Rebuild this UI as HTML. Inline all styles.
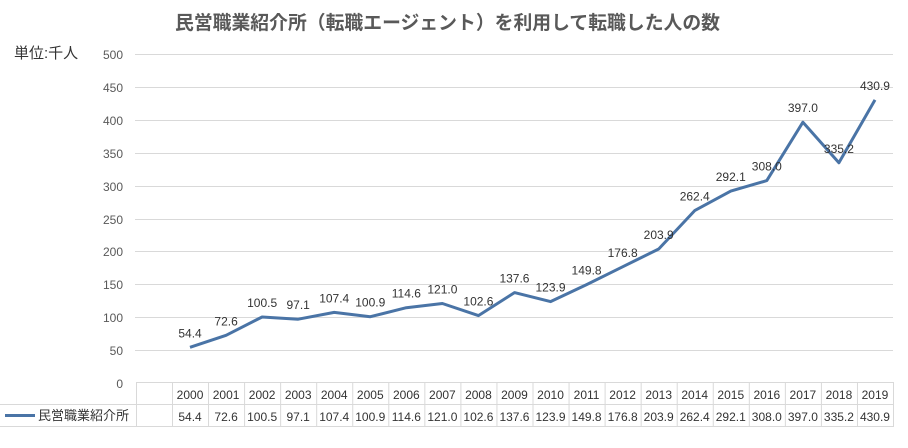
<!DOCTYPE html>
<html><head><meta charset="utf-8"><style>
body{margin:0;background:#fff;}
svg text{font-family:"Liberation Sans","Noto Sans CJK JP",sans-serif;}
</style></head><body>
<svg width="908" height="443" viewBox="0 0 908 443" xmlns="http://www.w3.org/2000/svg">
<rect width="908" height="443" fill="#fff"/>
<text x="175" y="29" font-size="19" font-weight="bold" fill="#595959" textLength="545" lengthAdjust="spacingAndGlyphs">民営職業紹介所（転職エージェント）を利用して転職した人の数</text>
<text x="14" y="58" font-size="15" fill="#333">単位:千人</text>
<g stroke="#d9d9d9" stroke-width="1">
<line x1="135" y1="54.5" x2="893" y2="54.5"/>
<line x1="135" y1="87.5" x2="893" y2="87.5"/>
<line x1="135" y1="120.5" x2="893" y2="120.5"/>
<line x1="135" y1="153.5" x2="893" y2="153.5"/>
<line x1="135" y1="186.5" x2="893" y2="186.5"/>
<line x1="135" y1="219.5" x2="893" y2="219.5"/>
<line x1="135" y1="251.5" x2="893" y2="251.5"/>
<line x1="135" y1="284.5" x2="893" y2="284.5"/>
<line x1="135" y1="317.5" x2="893" y2="317.5"/>
<line x1="135" y1="350.5" x2="893" y2="350.5"/>
</g>
<g font-size="12" fill="#595959" text-anchor="end">
<text x="123" y="59">500</text><text x="123" y="92">450</text><text x="123" y="125">400</text>
<text x="123" y="158">350</text><text x="123" y="191">300</text><text x="123" y="224">250</text>
<text x="123" y="256">200</text><text x="123" y="289">150</text><text x="123" y="322">100</text>
<text x="123" y="355">50</text><text x="123" y="388">0</text>
</g>
<!-- table -->
<g stroke="#d9d9d9" stroke-width="1" fill="none">
<line x1="136" y1="382.5" x2="893" y2="382.5"/>
<line x1="0" y1="404.5" x2="893" y2="404.5"/>
<line x1="0" y1="426.5" x2="893" y2="426.5"/>
<path id="vl" d=""/>
</g>
<g id="cols" stroke="#d9d9d9" stroke-width="1"></g>
<g id="tbl" font-size="12" fill="#333" text-anchor="middle"></g>
<line x1="5" y1="415.5" x2="35" y2="415.5" stroke="#4a74a6" stroke-width="3"/>
<text x="38" y="420" font-size="13" fill="#333">民営職業紹介所</text>
<polyline id="ln" fill="none" stroke="#4a74a6" stroke-width="3" stroke-linejoin="round"/>
<g id="lbl" font-size="12" fill="#333" text-anchor="middle"></g>
</svg>
<script>
var d=[54.4,72.6,100.5,97.1,107.4,100.9,114.6,121.0,102.6,137.6,123.9,149.8,176.8,203.9,262.4,292.1,308.0,397.0,335.2,430.9];
var ns="http://www.w3.org/2000/svg";
function el(t,a,p,txt){var e=document.createElementNS(ns,t);for(var k in a)e.setAttribute(k,a[k]);if(txt!=null)e.textContent=txt;document.getElementById(p).appendChild(e);}
var x0=172,w=36.05,pts=[];
for(var i=0;i<=21;i++){var x=(i==0?136:x0+i*w-w)+0.5; if(i==0)x=136.5; else x=x0+(i-1)*w+0.5; el("line",{x1:x,y1:382,x2:x,y2:427},"cols");}
el("line",{x1:893.5,y1:382,x2:893.5,y2:427},"cols");
for(var i=0;i<20;i++){var cx=x0+i*w+w/2;var v=d[i];
el("text",{x:cx,y:399},"tbl",String(2000+i));
el("text",{x:cx,y:421},"tbl",v.toFixed(1));
var y=383-v*0.657;pts.push(cx.toFixed(1)+","+y.toFixed(1));
el("text",{x:cx,y:y-10},"lbl",v.toFixed(1));}
document.getElementById("ln").setAttribute("points",pts.join(" "));
</script>
</body></html>
